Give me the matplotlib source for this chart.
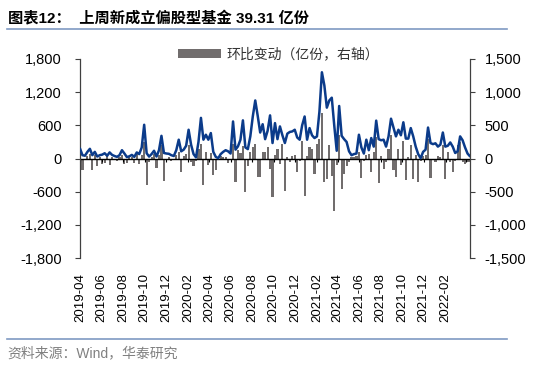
import matplotlib
matplotlib.use('Agg')
import matplotlib.pyplot as plt
import pandas as pd
from matplotlib.lines import Line2D
from matplotlib.patches import Patch
from matplotlib.font_manager import FontProperties

# ---------------- data ----------------
start_date = '2019-04-05'
line_values = [
    180, 60, 50, 120, 175, 60, 120, 35, 60, 70,
    95, 50, 110, 65, 45, 30, 60, 150, 90, 25,
    40, 65, 30, 110, 80, 200, 610, 95, 35, 80,
    140, 35, 150, 410, 100, 90, 85, 60, 45, 150,
    340, 130, 160, 230, 520, 250, 80, 20, 300, 735,
    340, 430, 340, 460, 120, 30, 5, 80, 120, 150,
    130, 90, 670, 160, 220, 340, 690, 200, 170, 400,
    760, 1050, 770, 470, 620, 350, 500, 780, 280, 640,
    350, 580, 420, 280, 450, 480, 490, 520, 380, 340,
    600, 760, 340, 550, 420, 370, 400, 850, 1560, 1320,
    920, 1050, 1100, 600, 140, 950, 410, 350, 300, 130,
    60, 80, 90, 430, 200, 90, 340, 150, 370, 215,
    685, 350, 330, 340, 215, 400, 720, 560, 400, 520,
    420, 655, 360, 360, 550, 400, 215, 80, 5, 120,
    160, 560, 280, 260, 275, 215, 250, 470, 215, 230,
    290, 215, 100, 130, 400, 330, 200, 90, 39.31,
]
bar_values = [
    0, -170, -20, 40, 70, -180, 60, -120, 30, -80,
    -65, 40, -105, 30, -20, -45, 20, 60, -80, -70,
    20, 25, -65, 70, -80, 60, 250, -400, -60, 30,
    70, -140, 60, 200, -333, -20, 30, -40, -20, 60,
    100, -200, 40, 70, 200, -60, -120, -40, 150, 220,
    -400, 95, -105, 90, -255, -180, -20, 40, 30, 20,
    -65, -30, 220, -350, 130, 80, 190, -510, -120, 100,
    170, 220, -280, -280, 100, 95, 170, -155, -585, 60,
    150, -80, 220, -485, 30, -55, 45, 60, -205, -40,
    270, -560, 40, 170, 150, -230, 220, 300, 680, -350,
    -310, 200, -260, -790, -100, 350, -460, -230, -110, -50,
    20, 30, 40, 100, -300, -40, 60, 70, -200, 95,
    320, -375, 40, -155, -50, 145, 350, -180, -280, 145,
    -105, 270, -330, 30, 205, -310, 55, -350, -40, 45,
    60, 300, -300, -30, -60, 40, 30, 200, -310, 95,
    -60, -205, -40, 200, 250, -60, -80, -55, -51,
]
tick_labels = ['2019-04', '2019-06', '2019-08', '2019-10', '2019-12',
               '2020-02', '2020-04', '2020-06', '2020-08', '2020-10',
               '2020-12', '2021-02', '2021-04', '2021-06', '2021-08',
               '2021-10', '2021-12', '2022-02']
left_ticks = [-1800, -1200, -600, 0, 600, 1200, 1800]
right_ticks = [-1500, -1000, -500, 0, 500, 1000, 1500]

title = '图表12：  上周新成立偏股型基金 39.31 亿份'
legend_label = '环比变动（亿份，右轴）'
source = '资料来源：Wind，华泰研究'

# ---------------- figure ----------------
dates = pd.date_range(start_date, periods=len(line_values), freq='7D')
tick_pos = pd.to_datetime([t + '-05' for t in tick_labels])
mark_pos = pd.to_datetime([t + '-05' for t in tick_labels + ['2022-04']])

fig = plt.figure(figsize=(5.5, 3.7), dpi=100)
ax = fig.add_axes([80 / 550, 1 - 258 / 370, 390 / 550, 199 / 370])
ax2 = ax.twinx()

bar_color = '#716d6d'
ax2.bar(dates, bar_values, width=6, color=bar_color, zorder=2, linewidth=0)
ax.plot(dates, line_values, color='#0b3b8a', lw=1.8, solid_joinstyle='round',
        solid_capstyle='round', zorder=3)
ax.axhline(0, color='black', lw=1.0, zorder=2)
ax.vlines(mark_pos, 0.5 - 3.5 / 199, 0.5, transform=ax.get_xaxis_transform(),
          color='black', lw=0.8, zorder=2)

ax.set_zorder(ax2.get_zorder() + 1)
ax.patch.set_visible(False)

ax.set_xlim(dates[0], dates[-1])
ax.set_ylim(-1800, 1800)
ax2.set_ylim(-1500, 1500)

ax.set_yticks(left_ticks)
ax.set_yticklabels([f'{v:,}' for v in left_ticks])
ax2.set_yticks(right_ticks)
ax2.set_yticklabels([f'{v:,}' for v in right_ticks])

ax.set_xticks(tick_pos)
ax.set_xticklabels(tick_labels, rotation=90)

tick_font = 'Liberation Sans'
for lbl in ax.get_yticklabels() + ax2.get_yticklabels():
    lbl.set_fontfamily(tick_font)
    lbl.set_fontsize(10.5)
for lbl in ax.get_xticklabels():
    lbl.set_fontfamily(tick_font)
    lbl.set_fontsize(9.5)

ax.tick_params(axis='x', length=0, pad=11)
ax.tick_params(axis='y', length=3.5, width=0.8, color='#404040', pad=9.5)
ax2.tick_params(axis='y', length=3.5, width=0.8, color='#404040', pad=7)

for s in ['top', 'right', 'bottom']:
    ax.spines[s].set_visible(False)
for s in ['top', 'left', 'bottom']:
    ax2.spines[s].set_visible(False)
ax.spines['left'].set_color('#404040')
ax.spines['left'].set_linewidth(0.9)
ax2.spines['right'].set_color('#404040')
ax2.spines['right'].set_linewidth(0.9)

# legend
fig.legend(handles=[Patch(facecolor=bar_color, label=legend_label)],
           loc='center left', bbox_to_anchor=(178 / 550, 1 - 54.5 / 370), frameon=False,
           prop=FontProperties(family=['Noto Sans CJK SC'], size=10),
           handlelength=3.1, handleheight=0.65, handletextpad=0.4,
           borderpad=0, borderaxespad=0, labelcolor='#333333')

# title, rules, source
fig.text(8 / 550, 1 - 23 / 370, title, fontsize=11, fontweight='bold',
         family=['Liberation Sans', 'Noto Sans CJK SC'], va='baseline', color='black')
fig.add_artist(Line2D([7 / 550, 507 / 550], [1 - 29 / 370] * 2, color='#7f9ac2', lw=1.2))
fig.add_artist(Line2D([7 / 550, 507 / 550], [1 - 339 / 370] * 2, color='#7f9ac2', lw=1.2))
fig.text(7 / 550, 1 - 353 / 370, source, fontsize=10, color='#808080',
         family=['Liberation Sans', 'Noto Sans CJK SC'], va='center')

fig.savefig('out.png', dpi=100)
